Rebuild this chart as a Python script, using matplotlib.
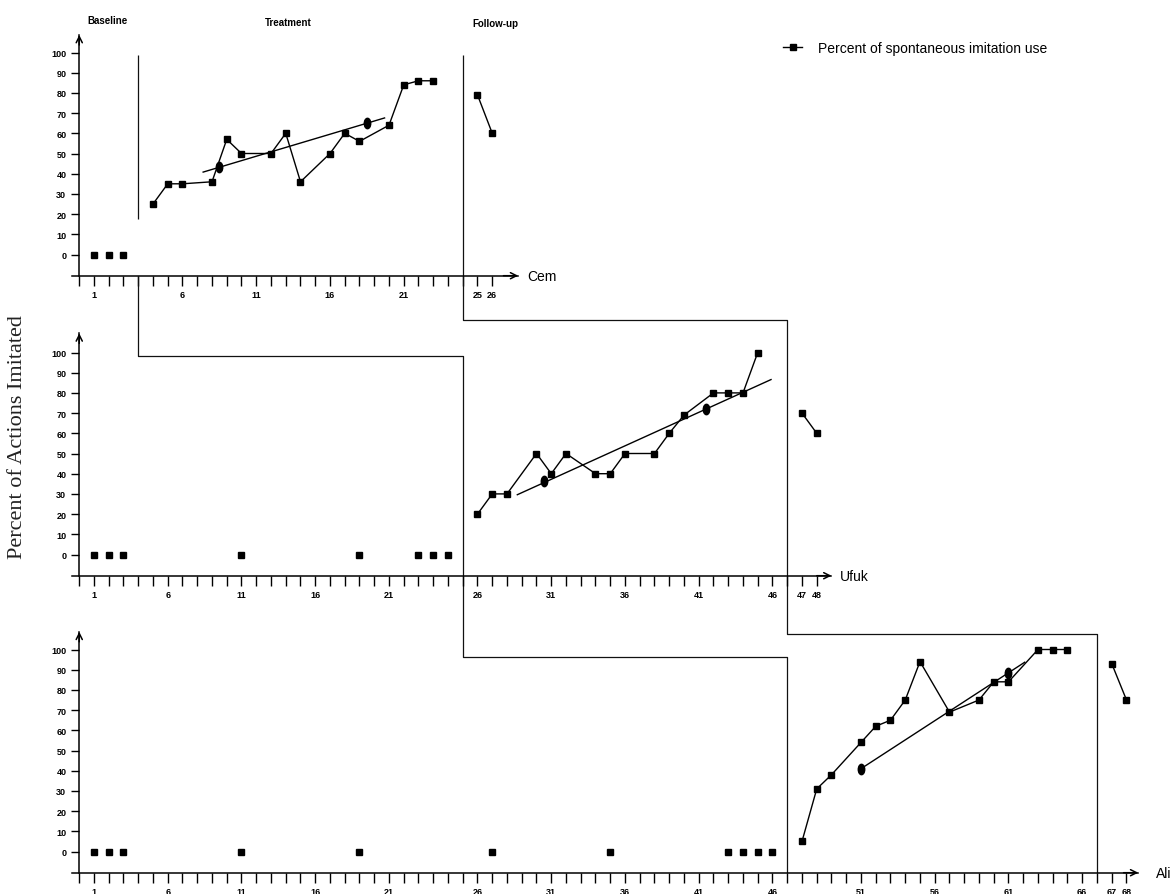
import matplotlib
matplotlib.use("Agg")
import matplotlib.pyplot as plt
from matplotlib import font_manager
from matplotlib.path import Path
from matplotlib.transforms import Affine2D

# ---- data (x = session, y = percent) ----
cem_base_x = [1, 2, 3]
cem_base_y = [0, 0, 0]
cem_treat_x = [4, 5, 6, 8, 9, 10, 12, 13, 14, 16, 17, 18, 20, 21, 22, 23]
cem_treat_y = [25, 35, 35, 36, 57, 50, 50, 60, 36, 50, 60, 56, 64, 84, 86, 86]
cem_follow_x = [25, 26]
cem_follow_y = [79, 60]
cem_trend_x = [7.4, 19.7]
cem_trend_y = [40.8, 67.6]
cem_mid_x = [8.5, 18.5]
cem_mid_y = [43.2, 65]
cem_ticks = [1, 6, 11, 16, 21, 25, 26]
cem_breaks = [4, 25]

ufuk_base_x = [1, 2, 3, 11, 19, 23, 24, 25]
ufuk_base_y = [0, 0, 0, 0, 0, 0, 0, 0]
ufuk_treat_x = [26, 27, 28, 30, 31, 32, 34, 35, 36, 38, 39, 40, 42, 43, 44, 45]
ufuk_treat_y = [20, 30, 30, 50, 40, 50, 40, 40, 50, 50, 60, 69, 80, 80, 80, 100]
ufuk_follow_x = [47, 48]
ufuk_follow_y = [70, 60]
ufuk_trend_x = [28.7, 45.9]
ufuk_trend_y = [29.6, 86.6]
ufuk_mid_x = [30.5, 41.5]
ufuk_mid_y = [36.2, 72.2]
ufuk_ticks = [1, 6, 11, 16, 21, 26, 31, 36, 41, 46, 47, 48]
ufuk_breaks = [26, 47]

ali_base_x = [1, 2, 3, 11, 19, 27, 35, 43, 44, 45, 46]
ali_base_y = [0, 0, 0, 0, 0, 0, 0, 0, 0, 0, 0]
ali_treat_x = [47, 48, 49, 51, 52, 53, 54, 55, 57, 59, 60, 61, 63, 64, 65]
ali_treat_y = [5, 31, 38, 54, 62, 65, 75, 94, 69, 75, 84, 84, 100, 100, 100]
ali_follow_x = [67, 68]
ali_follow_y = [93, 75]
ali_trend_x = [51, 62.1]
ali_trend_y = [41, 93.7]
ali_mid_x = [51, 61]
ali_mid_y = [41, 88.5]
ali_ticks = [1, 6, 11, 16, 21, 26, 31, 36, 41, 46, 51, 56, 61, 66, 67, 68]
ali_breaks = [26, 47, 67]

names = ["Cem", "Ufuk", "Ali"]
y_ticks = [0, 10, 20, 30, 40, 50, 60, 70, 80, 90, 100]

# fonts
avail = {f.name for f in font_manager.fontManager.ttflist}
narrow = "Liberation Sans Narrow" if "Liberation Sans Narrow" in avail else "Liberation Sans"

# ---- layout (pixels) ----
W, H = 1173, 895
SX0, SPX = 94.0, 14.75          # px of slot 1, px per slot
UPX = 2.02                      # px per percent
zeros = [255.5, 555.5, 852.5]   # px of y=0 per panel
YLO, YHI = -12, 112
XAX = -10.5                     # y value of the x axis line


def to_slot(s, breaks):
    return s + sum(1 for b in breaks if s >= b)


def slots(xs, breaks):
    return [to_slot(s, breaks) for s in xs]


fig = plt.figure(figsize=(W / 100, H / 100), dpi=100)
xlim = (1 - SX0 / SPX, 1 + (W - SX0) / SPX)
axes = []
for z in zeros:
    top_px = z - YHI * UPX
    bot_px = z - YLO * UPX
    ax = fig.add_axes([0, 1 - bot_px / H, 1, (bot_px - top_px) / H])
    ax.set_xlim(*xlim)
    ax.set_ylim(YLO, YHI)
    ax.set_facecolor("none")
    axes.append(ax)

panels = [
    (cem_base_x, cem_base_y, cem_treat_x, cem_treat_y, cem_follow_x, cem_follow_y,
     cem_trend_x, cem_trend_y, cem_mid_x, cem_mid_y, cem_ticks, cem_breaks),
    (ufuk_base_x, ufuk_base_y, ufuk_treat_x, ufuk_treat_y, ufuk_follow_x, ufuk_follow_y,
     ufuk_trend_x, ufuk_trend_y, ufuk_mid_x, ufuk_mid_y, ufuk_ticks, ufuk_breaks),
    (ali_base_x, ali_base_y, ali_treat_x, ali_treat_y, ali_follow_x, ali_follow_y,
     ali_trend_x, ali_trend_y, ali_mid_x, ali_mid_y, ali_ticks, ali_breaks),
]
arrow_end = [29.76, 51.0, 71.8]
name_x = [30.36, 51.6, 73.0]
y_arrow = [108.7, 109.5, 108.8]

ellipse = Path.unit_circle().transformed(Affine2D().scale(0.62, 1.0))
sq = dict(marker="s", markersize=5, color="black")
handle = None

for i, ax in enumerate(axes):
    (bx, by, tx, ty, fx, fy, trx, tr_y, mx, my, ticks, brk) = panels[i]

    ax.plot(slots(bx, brk), by, linestyle="none", **sq)
    ln, = ax.plot(slots(tx, brk), ty, lw=1.0, **sq,
                  label="Percent of spontaneous imitation use")
    ax.plot(slots(fx, brk), fy, lw=1.0, **sq)
    ax.plot(slots(trx, brk), tr_y, color="black", lw=1.0)
    ax.plot(slots(mx, brk), my, linestyle="none", marker=ellipse,
            markersize=7.5, color="black")
    if i == 0:
        handle = ln

    # axes
    last = to_slot(ticks[-1], brk)
    for s in ["top", "right"]:
        ax.spines[s].set_visible(False)
    ax.spines["left"].set_position(("data", 0))
    ax.spines["left"].set_bounds(XAX, y_arrow[i])
    ax.spines["bottom"].set_position(("data", XAX))
    ax.spines["bottom"].set_bounds(-0.5, arrow_end[i])
    for s in ["left", "bottom"]:
        ax.spines[s].set_linewidth(1.1)
    ax.annotate("", xy=(0, y_arrow[i]), xytext=(0, y_arrow[i] - 5),
                arrowprops=dict(arrowstyle="->", lw=1.1, shrinkA=0, shrinkB=0,
                                mutation_scale=11))
    ax.annotate("", xy=(arrow_end[i], XAX), xytext=(arrow_end[i] - 1, XAX),
                arrowprops=dict(arrowstyle="->", lw=1.1, shrinkA=0, shrinkB=0,
                                mutation_scale=11))

    ax.set_yticks(y_ticks)
    ax.set_yticklabels([str(v) for v in y_ticks], fontfamily=narrow,
                       fontweight="bold", fontsize=6.5)
    lab = {to_slot(s, brk): str(s) for s in ticks}
    xt = list(range(0, last + 1))
    ax.set_xticks(xt)
    ax.set_xticklabels([lab.get(t, "") for t in xt], fontfamily=narrow,
                       fontweight="bold", fontsize=6.5)
    ax.tick_params(axis="y", direction="out", length=5.8, width=1.0, pad=3.5)
    ax.tick_params(axis="x", direction="out", length=7.2, width=1.0, pad=3.2)

    ax.text(name_x[i], XAX, names[i], fontfamily=narrow, fontsize=10,
            ha="left", va="center")

# ---- condition change lines (drawn in top-axes coordinates) ----
off = [(z - zeros[0]) / UPX for z in zeros]


def draw_path(pts, lw=0.9):
    xs = [p[1] for p in pts]
    ys = [p[2] - off[p[0]] for p in pts]
    axes[0].plot(xs, ys, color="#111111", lw=lw, clip_on=False,
                 solid_capstyle="butt")


c1 = [to_slot(cem_breaks[0], cem_breaks) - 1, to_slot(ufuk_breaks[0], ufuk_breaks) - 1,
      to_slot(ali_breaks[1], ali_breaks) - 1]
c2 = [to_slot(cem_breaks[1], cem_breaks) - 1, to_slot(ufuk_breaks[1], ufuk_breaks) - 1,
      to_slot(ali_breaks[2], ali_breaks) - 1]

draw_path([(0, c1[0], 98.8), (0, c1[0], 17.6)])
draw_path([(0, c1[0], XAX), (1, c1[0], 98.4), (1, c1[1], 98.4),
           (2, c1[1], 96.4), (2, c1[2], 96.4), (2, c1[2], XAX)])
draw_path([(0, c2[0], 98.8), (1, c2[0], 116.1), (1, c2[1], 116.1),
           (2, c2[1], 107.8), (2, c2[2], 107.8), (2, c2[2], XAX)])

# phase titles
for txt, x, y in [("Baseline", 1.92, 116.2), ("Treatment", 14.15, 115.2),
                  ("Follow-up", 28.19, 114.5)]:
    axes[0].text(x, y, txt, fontfamily=narrow, fontweight="bold", fontsize=7,
                 ha="center", va="center")

axes[0].legend(handles=[handle], loc="center left",
               bbox_to_anchor=(783 / W, 1 - 49 / H), bbox_transform=fig.transFigure,
               frameon=False, handlelength=1.4, handletextpad=1.1,
               borderpad=0, borderaxespad=0, prop=dict(family=narrow, size=10))

fig.text(18 / W, 1 - 437 / H, "Percent of Actions Imitated", rotation=90,
         ha="center", va="center", fontfamily="Liberation Serif", fontsize=16,
         color="#222222")

fig.savefig("out.png", dpi=100)
